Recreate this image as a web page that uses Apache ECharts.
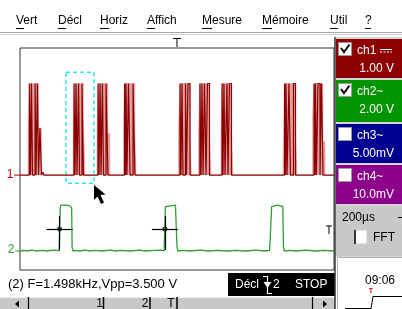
<!DOCTYPE html>
<html>
<head>
<meta charset="utf-8">
<script src="https://cdn.jsdelivr.net/npm/echarts@6/dist/echarts.min.js"></script>
<style>
html, body { margin: 0; padding: 0; background: #fff; }
#scope { width: 402px; height: 309px; }
</style>
</head>
<body>
<div id="scope"></div>
<script>
// ch1 : impulsions foncées [debut µs, fin µs, niveau V]
var ch1Pulses = [
    [60, 67, 3.3], [73, 80, 3.3], [96, 102, 3.3], [111, 118, 3.3], [127, 137, 1.7], [146, 153, 0.1],
    [344, 350, 3.3], [357, 363, 3.3], [373, 379, 3.3], [395, 404, 3.3],
    [497, 503, 3.3], [510, 516, 3.3], [525, 532, 3.3], [548, 560, 3.3],
    [666, 672, 3.3], [675, 681, 3.3], [691, 701, 3.3], [720, 732, 3.3],
    [1019, 1025, 3.3], [1032, 1038, 3.3], [1054, 1060, 3.3], [1070, 1083, 3.3],
    [1146, 1153, 3.3], [1159, 1166, 3.3], [1175, 1185, 3.3], [1194, 1207, 3.3],
    [1287, 1293, 3.3], [1299, 1306, 3.3], [1318, 1325, 3.3], [1334, 1347, 3.3],
    [1685, 1691, 3.3], [1694, 1701, 3.3], [1713, 1723, 3.3], [1742, 1755, 3.3],
    [1873, 1879, 3.3], [1882, 1888, 3.3], [1898, 1911, 3.3], [1920, 1930, 3.3]
];
// ch1 : enveloppe de chaque paquet [debut, debutHaut, finHaut, fin, niveauEntree, niveauSortie]
var ch1Bursts = [
    [51, 59, 118, 138, 1.7, 1.7],
    [338, 344, 404, 414, 1.6, 1.8],
    [490, 497, 560, 573, 1.7, 1.5],
    [659, 666, 732, 739, 1.7, 1.6],
    [1009, 1019, 1083, 1092, 1.7, 1.6],
    [1137, 1146, 1207, 1216, 1.6, 1.5],
    [1280, 1287, 1347, 1357, 1.7, 1.6],
    [1675, 1685, 1755, 1764, 0.4, 1.6],
    [1863, 1873, 1930, 1943, 2.1, 1.2]
];
var ch1High = 3.3;
// ch2 : [temps µs, tension V]
var ch2Points = [
    [0, 0], [30, 0.05], [45, 0], [80, 0.06], [95, 0], [150, 0.05], [170, 0], [215, 0.06], [235, 0.05], [250, 0],
    [253, 0], [256, 3.1], [260, 3.3], [300, 3.3], [318, 3.25], [326, 3.3], [329, 3.1], [332, 0.25], [338, 0],
    [360, 0.05], [380, 0], [420, 0.06], [440, 0], [480, 0.05], [520, 0], [580, 0.06], [600, 0], [650, 0.05],
    [700, 0], [760, 0.06], [800, 0], [860, 0.05], [900, 0.06], [918, 0],
    [923, 0], [926, 3.2], [930, 3.3], [990, 3.3], [996, 3.2], [1000, 0.3], [1006, 0],
    [1040, 0.05], [1080, 0], [1150, 0.06], [1200, 0], [1260, 0.05], [1320, 0], [1380, 0.05], [1440, 0],
    [1500, 0.06], [1560, 0], [1590, 0.05],
    [1596, 0], [1598, 2.0], [1603, 3.2], [1608, 3.3], [1640, 3.3], [1660, 3.25], [1674, 3.2], [1678, 0.3], [1684, 0],
    [1720, 0.05], [1760, 0], [1820, 0.06], [1880, 0], [1940, 0.05], [2000, 0]
];
var cursorTimes = [252, 923];
var cursorLevel = 1.59;
var cursorHalfWidth = 83;
var cursorLow = 0.07;
var cursorHigh = 2.52;
var zoomBox = [[293, 3.71], [471, -0.29]];
var triggerTime = 1000;
var triggerLevel = 1.59;

var menuItems = ['Vert', 'Décl', 'Horiz', 'Affich', 'Mesure', 'Mémoire', 'Util', '?'];
var chNames = ['ch1', 'ch2~', 'ch3~', 'ch4~'];
var chScales = ['1.00 V', '2.00 V', '5.00mV', '10.0mV'];
var chChecked = [true, true, false, false];
var measureText = '(2) F=1.498kHz,Vpp=3.500 V';
var timeBase = '200µs';
var clockText = '09:06';

// mise en page (pixels)
var menuX = [16, 58, 100, 147, 202, 262, 330, 365];
var menuUnder = [8, 8, 9, 8, 10, 10, 8, 6];
var chTop = [39, 80, 124, 165];
var chHeight = [39, 42, 39, 39];
var chColors = ['#8e0000', '#009400', '#000090', '#8c008c'];
var font = '12px "Liberation Sans", Arial, sans-serif';

var scopeChart = echarts.init(document.getElementById('scope'));

function buildCh1() {
    var pts = [[0, 0]];
    for (var i = 0; i < ch1Pulses.length; i++) {
        var p = ch1Pulses[i];
        pts.push([p[0], 0], [p[0], p[2]], [p[1], p[2]], [p[1], 0]);
    }
    pts.push([2000, 0]);
    return pts;
}

function buildEnvelope() {
    var pts = [[0, 0]];
    for (var i = 0; i < ch1Bursts.length; i++) {
        var b = ch1Bursts[i];
        pts.push([b[0], 0], [b[0], b[4]], [b[1], b[4]], [b[1], ch1High], [b[2], ch1High],
            [b[2], b[5]], [b[3], b[5]], [b[3], 0]);
    }
    pts.push([2000, 0]);
    return pts;
}

function buildCursorLines() {
    var res = [];
    for (var i = 0; i < cursorTimes.length; i++) {
        var t = cursorTimes[i];
        res.push([{ coord: [t - cursorHalfWidth, cursorLevel] }, { coord: [t + cursorHalfWidth, cursorLevel] }]);
        res.push([{ coord: [t, cursorLow] }, { coord: [t, cursorHigh] }]);
    }
    return res;
}

var option = {
    animation: false,
    backgroundColor: '#fff',
    grid: {
        left: 20, top: 48, width: 314, height: 222,
        show: true, backgroundColor: '#fff', borderColor: '#333', borderWidth: 1
    },
    xAxis: { type: 'value', min: 0, max: 2000, show: false },
    yAxis: [
        { type: 'value', min: -3.42, max: 4.58, show: false }, // ch1 1V/div
        { type: 'value', min: -1.37, max: 14.63, show: false } // ch2 2V/div
    ],
    series: [
        {
            name: 'ch1 env', type: 'line', yAxisIndex: 0, silent: true, symbol: 'none',
            data: buildEnvelope(),
            lineStyle: { color: '#dfa2a2', width: 0.5 },
            areaStyle: { color: '#dfa2a2', opacity: 1, origin: 'auto' }
        },
        {
            name: 'ch1', type: 'line', yAxisIndex: 0, silent: true, symbol: 'none',
            data: buildCh1(),
            lineStyle: { color: '#8e0000', width: 1.2 },
            markArea: {
                silent: true,
                label: { show: false },
                itemStyle: { color: 'rgba(0,0,0,0)', borderColor: '#2ee6ec', borderWidth: 1.5, borderType: [4, 3] },
                data: [[{ coord: zoomBox[0] }, { coord: zoomBox[1] }]]
            }
        },
        {
            name: 'ch2', type: 'line', yAxisIndex: 1, silent: true, symbol: 'none',
            data: ch2Points,
            lineStyle: { color: '#2e9e2e', width: 1.3 },
            markLine: {
                silent: true, symbol: 'none', animation: false,
                label: { show: false },
                lineStyle: { color: '#000', width: 1.2, type: 'solid' },
                data: buildCursorLines()
            }
        },
        {
            name: 'curseurs', type: 'scatter', yAxisIndex: 1, silent: true,
            symbolSize: 5, itemStyle: { color: '#000' },
            data: cursorTimes.map(function(t) { return [t, cursorLevel]; })
        }
    ]
};
scopeChart.setOption(option);

// interface autour de l'ecran
function txt(x, y, s, fill, align, f) {
    return { type: 'text', z: 100, style: { x: x, y: y, text: s, fill: fill || '#000', font: f || font, textAlign: align || 'left', textVerticalAlign: 'middle' } };
}
function ln(x1, y1, x2, y2, c, w) {
    return { type: 'line', z: 100, shape: { x1: x1, y1: y1, x2: x2, y2: y2 }, style: { stroke: c || '#000', lineWidth: w || 1 } };
}
function box(x, y, w, h, fill, stroke) {
    var st = { fill: fill, lineWidth: 1 };
    if (stroke) st.stroke = stroke;
    return { type: 'rect', z: 90, shape: { x: x, y: y, width: w, height: h }, style: st };
}

var uiElems = [];
// barre de menu
for (var i = 0; i < menuItems.length; i++) {
    uiElems.push(txt(menuX[i], 21, menuItems[i]));
    uiElems.push(ln(menuX[i], 28.5, menuX[i] + menuUnder[i], 28.5, '#000', 1));
}
uiElems.push(ln(0, 32.5, 402, 32.5, '#a8a8a8', 1));
uiElems.push(ln(0, 34.5, 402, 34.5, '#d0d0d0', 1));

// panneau des voies
uiElems.push(box(336, 37, 66, 220, '#d4d4d4'));
for (var c = 0; c < chNames.length; c++) {
    var chY = chTop[c];
    uiElems.push(box(336, chY, 66, chHeight[c], chColors[c]));
    uiElems.push(box(338.5, chY + 3.5, 13, 13, '#fff', '#9a9a9a'));
    if (chChecked[c]) {
        uiElems.push({ type: 'polyline', z: 100, shape: { points: [[341, chY + 9], [344, chY + 13], [349.5, chY + 5.5]] }, style: { stroke: '#000', lineWidth: 2 } });
    }
    uiElems.push(txt(357, chY + 12, chNames[c], '#fff'));
    uiElems.push(txt(394, chY + 30, chScales[c], '#fff', 'right'));
}
// symbole couplage continu de ch1
uiElems.push(ln(380, chTop[0] + 10.5, 392, chTop[0] + 10.5, '#fff', 1));
uiElems.push({ type: 'line', z: 100, shape: { x1: 380, y1: chTop[0] + 13, x2: 392, y2: chTop[0] + 13 }, style: { stroke: '#fff', lineWidth: 1, lineDash: [2, 1.5] } });

// base de temps, FFT
uiElems.push(box(336, 206, 66, 50, '#c8c8c8'));
uiElems.push(txt(342, 218, timeBase));
uiElems.push(ln(398, 217.5, 402, 217.5, '#000', 1));
uiElems.push(box(355.5, 230.5, 11, 13, '#fff'));
uiElems.push(ln(355, 230, 355, 244, '#000', 1.5));
uiElems.push(txt(373, 237.5, 'FFT'));

// horloge
uiElems.push(box(337.5, 257.5, 70, 60, '#fff', '#b4b4b4'));
uiElems.push(txt(380, 281, clockText, '#000', 'center'));
uiElems.push(txt(371, 291, 'T', '#e00000', 'center', 'bold 7px "Liberation Sans", Arial, sans-serif'));
uiElems.push({ type: 'polyline', z: 100, shape: { points: [[345, 308.5], [371, 308.5], [373, 296.5], [402, 296.5]] }, style: { stroke: '#000', lineWidth: 1 } });

// mesure et etat
uiElems.push(txt(8, 284, measureText, '#000', 'left', '13px "Liberation Sans", Arial, sans-serif'));
uiElems.push(box(228, 273, 107, 23, '#000'));
uiElems.push(txt(235, 285, 'Décl', '#fff'));
uiElems.push({ type: 'polyline', z: 100, shape: { points: [[263, 276.5], [267.5, 276.5], [267.5, 293.5], [272, 293.5]] }, style: { stroke: '#fff', lineWidth: 1.2 } });
uiElems.push({ type: 'polygon', z: 100, shape: { points: [[263.5, 282], [271.5, 282], [267.5, 288]] }, style: { fill: '#fff' } });
uiElems.push(txt(273, 285, '2', '#fff'));
uiElems.push(txt(295, 285, 'STOP', '#fff'));

// barre de defilement
uiElems.push(box(0, 297, 335, 12, '#c8c8c8'));
uiElems.push(ln(0, 297.5, 335, 297.5, '#eeeeee', 1));
uiElems.push({ type: 'polygon', z: 100, shape: { points: [[15, 304], [19, 300.5], [19, 307.5]] }, style: { fill: '#000' } });
uiElems.push(ln(28.5, 297, 28.5, 309, '#000', 1.2));
uiElems.push(txt(99.5, 304, '1', '#000', 'center'));
uiElems.push(ln(103.5, 297, 103.5, 309, '#000', 1.5));
uiElems.push(txt(145, 304, '2', '#000', 'center'));
uiElems.push(ln(150, 297, 150, 309, '#000', 1.5));
uiElems.push(txt(171, 304, 'T', '#000', 'center'));
uiElems.push(ln(177, 297, 177, 309, '#000', 1.5));
uiElems.push(ln(312.5, 297, 312.5, 309, '#000', 1.2));
uiElems.push({ type: 'polygon', z: 100, shape: { points: [[327, 304], [323, 300.5], [323, 307.5]] }, style: { fill: '#000' } });
uiElems.push(ln(335, 37, 335, 309, '#333', 1.5));

// pointeur souris
uiElems.push({ type: 'polygon', z: 110, shape: { points: [[94, 185], [94, 200], [97.5, 196.5], [101, 204], [104, 202.5], [100.5, 195], [105.5, 194.5]] }, style: { fill: '#000' } });

// reperes des voies et du declenchement, places sur les axes
var p1 = scopeChart.convertToPixel({ xAxisIndex: 0, yAxisIndex: 0 }, [0, 0]);
var p2 = scopeChart.convertToPixel({ xAxisIndex: 0, yAxisIndex: 1 }, [0, 0]);
var pt = scopeChart.convertToPixel({ xAxisIndex: 0, yAxisIndex: 1 }, [triggerTime, triggerLevel]);
var pEnd = scopeChart.convertToPixel({ xAxisIndex: 0, yAxisIndex: 1 }, [2000, triggerLevel]);
uiElems.push(txt(10, p1[1], '1', '#c00000', 'center'));
uiElems.push(ln(14, p1[1], 20, p1[1], '#c00000', 1));
uiElems.push(txt(11, p2[1] - 1, '2', '#2e9e2e', 'center'));
uiElems.push(ln(15, p2[1], 20, p2[1], '#2e9e2e', 1));
uiElems.push(ln(pt[0] - 4, 38.5, pt[0] + 4, 38.5, '#000', 1));
uiElems.push(ln(pt[0], 38.5, pt[0], 47, '#000', 1));
uiElems.push(ln(pEnd[0] - 8, pt[1] - 3, pEnd[0] - 2, pt[1] - 3, '#000', 1));
uiElems.push(ln(pEnd[0] - 5, pt[1] - 3, pEnd[0] - 5, pt[1] + 5, '#000', 1));

scopeChart.setOption({ graphic: uiElems });
</script>
</body>
</html>
